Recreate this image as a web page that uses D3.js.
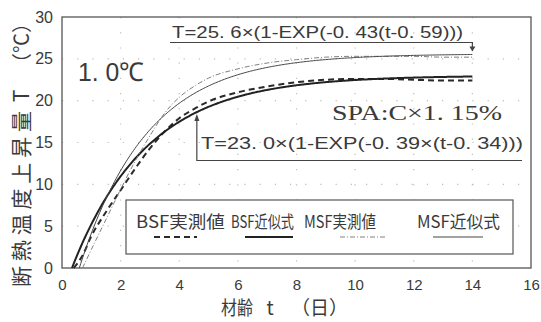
<!DOCTYPE html>
<html>
<head>
<meta charset="utf-8">
<script src="https://cdn.jsdelivr.net/npm/d3@7"></script>
<style>
  html, body { margin: 0; padding: 0; background: #fff; }
  svg { display: block; }
  text { fill: #3a3a3a; }
</style>
</head>
<body>
<script>
// Axis ticks
const xTicks = [0, 2, 4, 6, 8, 10, 12, 14, 16];
const yTicks = [0, 5, 10, 15, 20, 25, 30];

// Measured adiabatic temperature rise, BSF
const bsfAge  = [0.4, 0.7, 1.0, 1.5, 2.0, 2.5, 3.0, 3.5, 4.0, 4.5, 5.0, 6.0, 7.0, 8.0, 9.0, 10.0, 11.0, 12.0, 13.0, 14.0];
const bsfTemp = [0.0, 1.5, 3.8, 6.7, 9.3, 11.9, 14.3, 16.3, 17.9, 19.0, 19.9, 21.0, 21.7, 22.2, 22.5, 22.6, 22.6, 22.5, 22.4, 22.4];

// Measured adiabatic temperature rise, MSF
const msfAge  = [0.7, 1.0, 1.5, 2.0, 2.5, 3.0, 3.5, 4.0, 4.5, 5.0, 6.0, 7.0, 8.0, 9.0, 10.0, 11.0, 12.0, 13.0, 14.0];
const msfTemp = [0.0, 2.2, 5.8, 9.4, 12.8, 15.8, 18.5, 20.4, 21.7, 22.7, 23.8, 24.5, 24.9, 25.2, 25.3, 25.3, 25.3, 25.2, 25.2];

// Fitted curves T = Tinf * (1 - exp(-k (t - t0)))
const bsfFit = [23.0, 0.39, 0.34];
const msfFit = [25.6, 0.43, 0.59];
const fitEnd = 14;

const legendLabels = ["BSF実測値", "BSF近似式", "MSF実測値", "MSF近似式"];

const W = 541, H = 322;
const svg = d3.select("body").append("svg").attr("width", W).attr("height", H);

const x = d3.scaleLinear().domain([0, 16]).range([62, 531]);
const y = d3.scaleLinear().domain([0, 30]).range([268, 17]);

const numFont = "'Liberation Sans Narrow', 'Liberation Sans', Arial, sans-serif";
const cjkFont = "'Noto Sans CJK JP', 'Noto Sans CJK SC', sans-serif";

// dotted grid
const grid = svg.append("g").attr("stroke", "#bdbdbd").attr("stroke-width", 1.2)
  .attr("stroke-dasharray", "1.2,14");
grid.selectAll("line.v").data(xTicks.slice(1, -1)).join("line")
  .attr("x1", d => x(d)).attr("x2", d => x(d)).attr("y1", y(30)).attr("y2", y(0));
grid.selectAll("line.h").data(yTicks.slice(1, -1)).join("line")
  .attr("x1", x(0)).attr("x2", x(16)).attr("y1", d => y(d)).attr("y2", d => y(d));

// frame
svg.append("rect").attr("x", x(0)).attr("y", y(30))
  .attr("width", x(16) - x(0)).attr("height", y(0) - y(30))
  .attr("fill", "none").attr("stroke", "#555").attr("stroke-width", 1.3);

// axes (labels only)
const xAxis = svg.append("g").attr("transform", `translate(0,${y(0)})`)
  .call(d3.axisBottom(x).tickValues(xTicks).tickSize(0).tickPadding(11));
xAxis.select(".domain").remove();
xAxis.selectAll("text").attr("font-family", numFont).attr("font-size", 15).attr("fill", "#3a3a3a");

const yAxis = svg.append("g").attr("transform", `translate(${x(0)},0)`)
  .call(d3.axisLeft(y).tickValues(yTicks).tickSize(0).tickPadding(9));
yAxis.select(".domain").remove();
yAxis.selectAll("text").attr("font-family", numFont).attr("font-size", 16).attr("fill", "#3a3a3a");

// y axis title (rotated), pieces placed along the axis
const yt = svg.append("g").attr("transform", "translate(29,0) rotate(-90)")
  .attr("font-family", cjkFont).attr("font-size", 21);
yt.append("text").attr("x", -287).attr("y", 0)
  .attr("textLength", 176).attr("lengthAdjust", "spacing").text("断熱温度上昇量");
yt.append("text").attr("x", -96).attr("y", 0).attr("text-anchor", "middle").text("T");
yt.append("text").attr("x", -73).attr("y", 0).attr("font-size", 20).text("（℃）");

// x axis title
const xt = svg.append("g").attr("font-family", cjkFont).attr("font-size", 19);
xt.append("text").attr("x", 221).attr("y", 315)
  .attr("textLength", 32).attr("lengthAdjust", "spacingAndGlyphs").text("材齢");
xt.append("text").attr("x", 270).attr("y", 315).attr("text-anchor", "middle").text("t");
xt.append("text").attr("x", 291).attr("y", 315).text("（日）");

// curves
const line = d3.line().x(d => x(d[0])).y(d => y(d[1])).curve(d3.curveMonotoneX);
const fitPoints = f => d3.range(f[2], fitEnd + 1e-9, 0.05)
  .concat([fitEnd]).map(t => [t, f[0] * (1 - Math.exp(-f[1] * (t - f[2])))]);

const series = [
  { pts: d3.zip(bsfAge, bsfTemp), stroke: "#2a2a2a", w: 2.0, dash: "6,4" },
  { pts: fitPoints(bsfFit), stroke: "#222", w: 2.0, dash: null },
  { pts: d3.zip(msfAge, msfTemp), stroke: "#808080", w: 1.0, dash: "5,2,1,2" },
  { pts: fitPoints(msfFit), stroke: "#444", w: 1.0, dash: null }
];
svg.append("g").selectAll("path").data(series).join("path")
  .attr("d", d => line(d.pts)).attr("fill", "none")
  .attr("stroke", d => d.stroke).attr("stroke-width", d => d.w)
  .attr("stroke-dasharray", d => d.dash);

// label "1.0℃"
svg.append("text").attr("x", 78).attr("y", 81)
  .attr("font-family", numFont).attr("font-size", 26)
  .attr("textLength", 66).attr("lengthAdjust", "spacingAndGlyphs")
  .text("1. 0℃");

// MSF fit annotation
const msfEndVal = msfFit[0] * (1 - Math.exp(-msfFit[1] * (fitEnd - msfFit[2])));
svg.append("text").attr("x", 172).attr("y", 38)
  .attr("font-family", numFont).attr("font-size", 17)
  .attr("textLength", 291).attr("lengthAdjust", "spacingAndGlyphs")
  .text("T=25. 6×(1-EXP(-0. 43(t-0. 59)))");
svg.append("path")
  .attr("d", `M170,42.5H${x(fitEnd)}V${y(msfEndVal) - 4}`)
  .attr("fill", "none").attr("stroke", "#444").attr("stroke-width", 1.2);
svg.append("path")
  .attr("d", `M${x(fitEnd) - 3},${y(msfEndVal) - 8}L${x(fitEnd) + 3},${y(msfEndVal) - 8}L${x(fitEnd)},${y(msfEndVal) - 3}Z`)
  .attr("fill", "#444");

// SPA label
svg.append("text").attr("x", 332).attr("y", 120)
  .attr("font-family", "'Liberation Serif', 'DejaVu Serif', serif").attr("font-size", 22)
  .attr("fill", "#555")
  .attr("textLength", 170).attr("lengthAdjust", "spacingAndGlyphs")
  .text("SPA:C×1. 15%");

// BSF fit annotation
const arrowT = 4.6;
const arrowVal = bsfFit[0] * (1 - Math.exp(-bsfFit[1] * (arrowT - bsfFit[2])));
svg.append("text").attr("x", 201).attr("y", 149)
  .attr("font-family", numFont).attr("font-size", 17)
  .attr("textLength", 322).attr("lengthAdjust", "spacingAndGlyphs")
  .text("T=23. 0×(1-EXP(-0. 39×(t-0. 34)))");
svg.append("path")
  .attr("d", `M${x(arrowT)},${y(arrowVal) + 6}V160.5H522`)
  .attr("fill", "none").attr("stroke", "#444").attr("stroke-width", 1.2);
svg.append("path")
  .attr("d", `M${x(arrowT) - 2.5},${y(arrowVal) + 9}L${x(arrowT) + 2.5},${y(arrowVal) + 9}L${x(arrowT)},${y(arrowVal) + 2}Z`)
  .attr("fill", "#444");

// legend
const lg = svg.append("g");
lg.append("rect").attr("x", 126).attr("y", 200).attr("width", 387).attr("height", 54)
  .attr("fill", "#fff").attr("stroke", "#555").attr("stroke-width", 1.2);
const legendX = [136, 231, 304, 417];
const legendW = [89, 63, 72, 83];
const sampleX = [[154, 197], [245, 293], [340, 387], [433, 483]];
// condensed labels: squeeze each label horizontally to its slot width
lg.selectAll("text").data(legendLabels).join("text")
  .attr("font-family", cjkFont).attr("font-size", 17)
  .text(d => d)
  .each(function (d, i) {
    const len = this.getComputedTextLength();
    d3.select(this).attr("transform",
      `translate(${legendX[i]},228) scale(${legendW[i] / len},1)`);
  });
lg.selectAll("line").data(series).join("line")
  .attr("x1", (d, i) => sampleX[i][0]).attr("x2", (d, i) => sampleX[i][1])
  .attr("y1", 237).attr("y2", 237)
  .attr("stroke", d => d.stroke).attr("stroke-width", d => d.w)
  .attr("stroke-dasharray", d => d.dash);
</script>
</body>
</html>
